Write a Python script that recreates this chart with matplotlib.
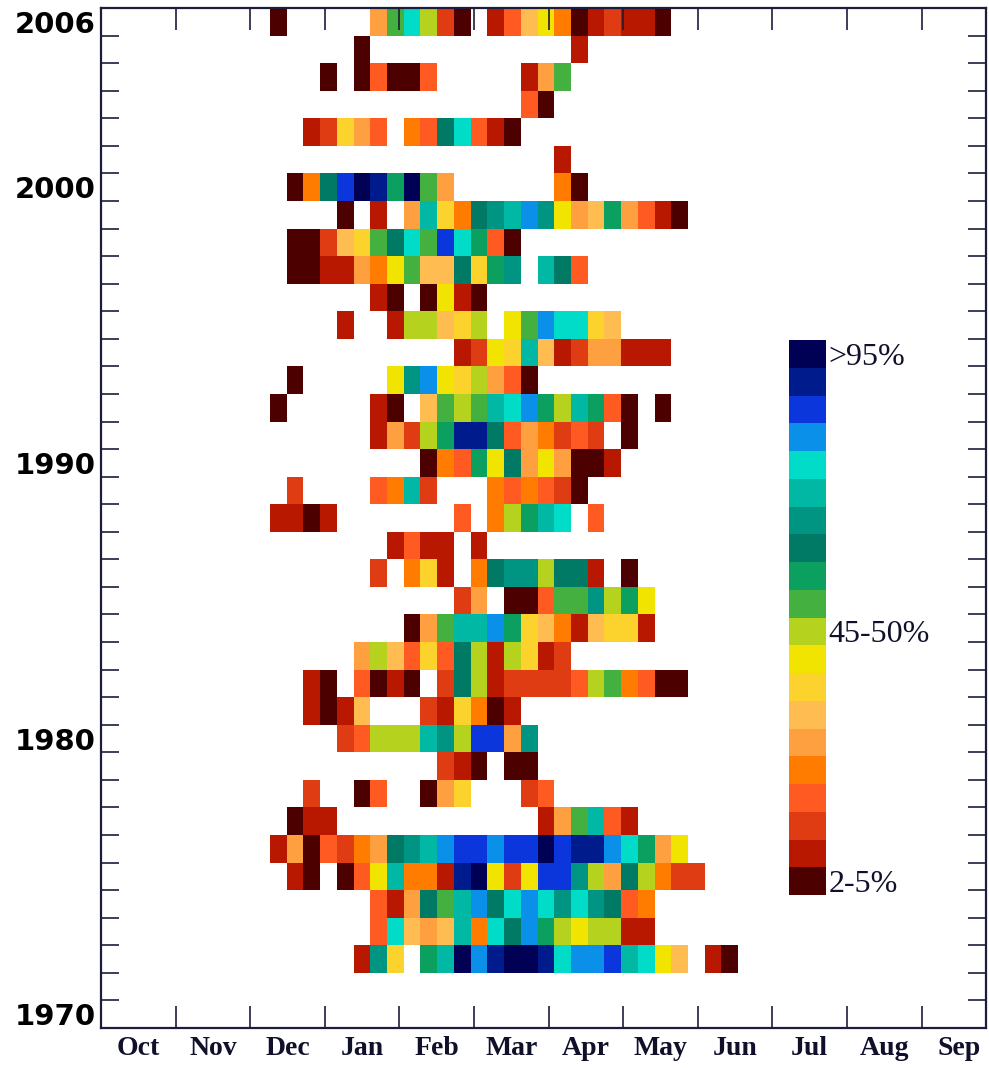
import numpy as np
import matplotlib.pyplot as plt
from matplotlib.colors import ListedColormap, BoundaryNorm
from matplotlib.cm import ScalarMappable

months = ['Oct', 'Nov', 'Dec', 'Jan', 'Feb', 'Mar', 'Apr', 'May', 'Jun', 'Jul', 'Aug', 'Sep']
year_labels = [1970, 1980, 1990, 2000, 2006]
level_labels = ['2-5%', '45-50%', '>95%']
level_ticks = [0, 9, 19]

# 20 classes of 5%, dark red (2-5%) up to navy (>95%)
level_colors = ['#4c0000', '#b81800', '#e03c14', '#ff5a22', '#ff7c00',
                '#ffa040', '#ffbc50', '#fcd22c', '#f0e400', '#b4d21e',
                '#44b040', '#0ca060', '#007a64', '#009482', '#00b8a4',
                '#00dcc8', '#0a90e8', '#0a36dc', '#001c8c', '#000055']

# one string per season, 2006 (top) down to 1970; one char per column:
# class 0-19 written as 0-9 then a-j, '.' = no value
codes = '0123456789abcdefghij'
rows = [
    "0.....5af920.13684012110....",  # 2006
    ".....0............1.........",  # 2005
    "...0.03003.....15a..........",  # 2004
    "...............30...........",  # 2003
    "..12753.43cf310.............",  # 2002
    ".................1..........",  # 2001
    ".04chjibja5......40.........",  # 2000
    "....0.1.5e74cdegd856b5310...",  # 1999
    ".00267acfahfb30.............",  # 1998
    ".0011548a66c7bd.ec3.........",  # 1997
    "......10.0810...............",  # 1996
    "....1..199679.8agff76.......",  # 1995
    "...........1287e61255111....",  # 1994
    ".0.....8dg879530............",  # 1993
    "0.....10.6a9aefgb9eb30.0....",  # 1992
    "......1529biic354232.0......",  # 1991
    ".........043b8c585001.......",  # 1990
    ".2....34e2...434320.........",  # 1989
    "1101.......3.49bef.3........",  # 1988
    ".......1311.1...............",  # 1987
    "......2.471.4cdd9cc1.0......",  # 1986
    "...........25.003aad9b8.....",  # 1985
    "........05aeegb76416771.....",  # 1984
    ".....596373c919712..........",  # 1983
    "..10.3010.2c91222239a4300...",  # 1982
    "..1016...217401.............",  # 1981
    "....23999ed9hh5d............",  # 1980
    "..........210.00............",  # 1979
    "..2..03..057...23...........",  # 1978
    ".011............15ae31......",  # 1977
    "1503245cdeghhghhjhiigfb58...",  # 1976
    ".10.038e441ij828hhd95c9422..",  # 1975
    "......315caegcfgfdfdc34.....",  # 1974
    "......3f656e4fcgb989911.....",  # 1973
    ".....1d7.bejgijjifgghef86.10",  # 1972
    "............................",  # 1971
    "............................",  # 1970
]
row_years = np.arange(2006, 1969, -1)

ncol = len(rows[0])
grid = np.full((len(rows), ncol), np.nan)
for i, r in enumerate(rows):
    for j, ch in enumerate(r):
        if ch != '.':
            grid[i, j] = codes.index(ch)
order = np.argsort(row_years)
grid = np.ma.masked_invalid(grid[order])

cmap = ListedColormap(level_colors)
norm = BoundaryNorm(np.arange(-0.5, 20.5), cmap.N)

# x in months since 1 Oct; cells are a bit under a week wide
px_month = 74.6
x0 = 169 / px_month
cw = 16.72 / px_month
x_edges = x0 + cw * np.arange(ncol + 1)
y_edges = np.arange(1970, 2008)

fig = plt.figure(figsize=(9.89, 10.68), dpi=100)
ax = fig.add_axes([101 / 989, 1 - 1028 / 1068, 885 / 989, 1020 / 1068])
ax.pcolormesh(x_edges, y_edges, grid, cmap=cmap, norm=norm)
ax.set_xlim(0, 885 / px_month)
ax.set_ylim(1970, 2007)

frame = '#1c1c3c'
for s in ax.spines.values():
    s.set_linewidth(1.6)
    s.set_color(frame)

ax.set_xticks(np.arange(1, 12))
ax.set_xticks(np.arange(12) + 0.5, months, minor=True)
ax.tick_params(axis='x', which='major', direction='in', length=16, width=1.2,
               color=frame, top=True, bottom=True, labelbottom=False)
ax.tick_params(axis='x', which='minor', length=0, pad=6, labelsize=20,
               labelcolor='#10102a')
for t in ax.get_xticklabels(minor=True):
    t.set_fontfamily('Liberation Serif')
    t.set_fontweight('bold')

ax.set_yticks(np.arange(1970, 2008))
ax.set_yticks(np.array(year_labels) + 0.5, [str(y) for y in year_labels], minor=True)
ax.tick_params(axis='y', which='major', direction='in', length=13, width=1.2,
               color=frame, left=True, right=True, labelleft=False)
ax.tick_params(axis='y', which='minor', length=0, pad=4, labelsize=21)
for t in ax.get_yticklabels(minor=True):
    t.set_fontfamily('DejaVu Sans')
    t.set_fontweight('bold')

cax = fig.add_axes([789 / 989, 1 - 895 / 1068, 37 / 989, 555 / 1068])
cb = fig.colorbar(ScalarMappable(norm=norm, cmap=cmap), cax=cax, ticks=level_ticks)
cb.outline.set_visible(False)
cb.minorticks_off()
cb.ax.set_yticklabels(level_labels, fontfamily='Liberation Serif', fontsize=23,
                      color='#10102a')
cax.tick_params(which='both', length=0, pad=2)

fig.savefig('out.png', dpi=100)
